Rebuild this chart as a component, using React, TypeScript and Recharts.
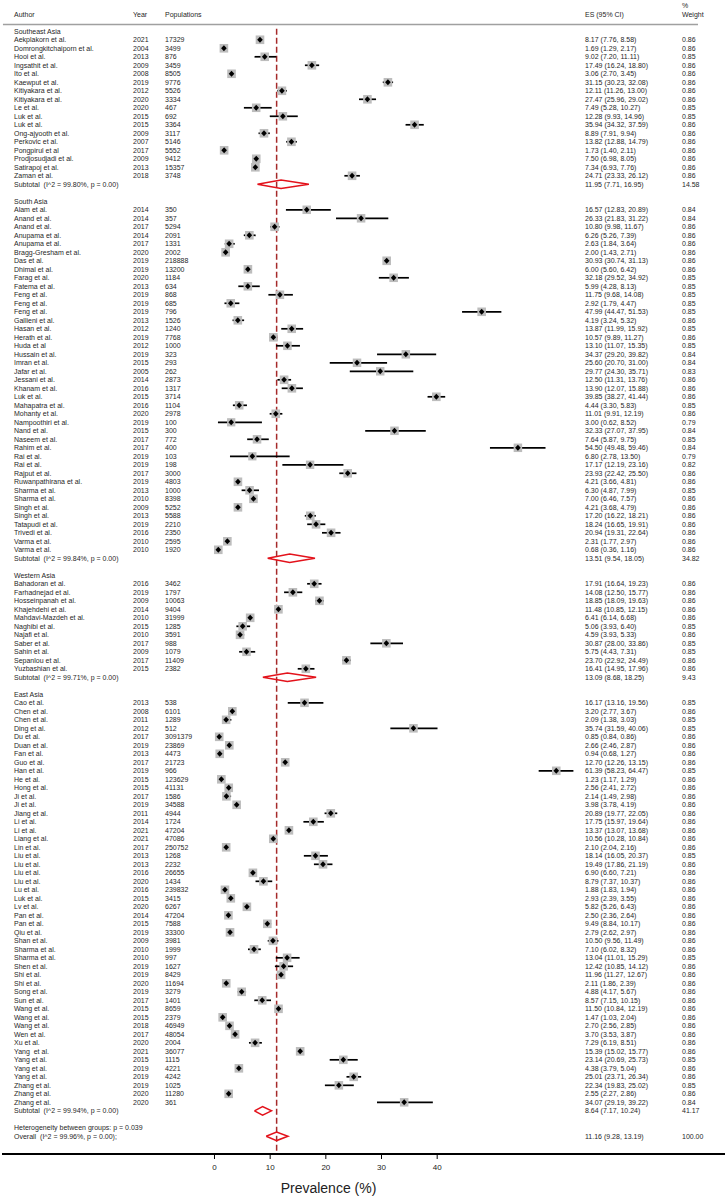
import React from 'react';
import { ScatterChart, Scatter, XAxis, YAxis, ErrorBar, ReferenceLine } from 'recharts';

// ---------------- DATA ----------------
const regionNames = ['Southeast Asia', 'South Asia', 'Western Asia', 'East Asia'];
const regionSizes = [17, 41, 11, 48];

const authors = [
  // Southeast Asia
  'Aekplakorn et al.', 'Domrongkitchaiporn et al.', 'Hooi et al.', 'Ingsathit et al.', 'Ito et al.', 'Kaewput et al.',
  'Kitiyakara et al.', 'Kitiyakara et al.', 'Le et al.', 'Luk et al.', 'Luk et al.', 'Ong-ajyooth et al.', 'Perkovic et al.',
  'Pongpirul et al', 'Prodjosudjadi et al.', 'Satirapoj et al.', 'Zaman et al.',
  // South Asia
  'Alam et al.', 'Anand et al.', 'Anand et al.', 'Anupama et al.', 'Anupama et al.', 'Bragg-Gresham et al.', 'Das et al.',
  'Dhimal et al.', 'Farag et al.', 'Fatema et al.', 'Feng et al.', 'Feng et al.', 'Feng et al.', 'Gallieni et al.',
  'Hasan et al.', 'Herath et al.', 'Huda et al', 'Hussain et al.', 'Imran et al.', 'Jafar et al.', 'Jessani et al.',
  'Khanam et al.', 'Luk et al.', 'Mahapatra et al.', 'Mohanty et al.', 'Nampoothiri et al.', 'Nand et al.', 'Naseem et al.',
  'Rahim et al.', 'Rai et al.', 'Rai et al.', 'Rajput et al.', 'Ruwanpathirana et al.', 'Sharma et al.', 'Sharma et al.',
  'Singh et al.', 'Singh et al.', 'Tatapudi et al.', 'Trivedi et al.', 'Varma et al.', 'Varma et al.',
  // Western Asia
  'Bahadoran et al.', 'Farhadnejad et al.', 'Hosseinpanah et al.', 'Khajehdehi et al.', 'Mahdavi-Mazdeh et al.',
  'Naghibi et al.', 'Najafi et al.', 'Saber et al.', 'Sahin et al.', 'Sepanlou et al.', 'Yuzbashian et al.',
  // East Asia
  'Cao et al.', 'Chen et al.', 'Chen et al.', 'Ding et al.', 'Du et al.', 'Duan et al.', 'Fan et al.', 'Guo et al.',
  'Han et al.', 'He et al.', 'Hong et al.', 'Ji et al.', 'Ji et al.', 'Jiang et al.', 'Li et al.', 'Li et al.',
  'Liang et al.', 'Lin et al.', 'Liu et al.', 'Liu et al.', 'Liu et al.', 'Liu et al.', 'Lu et al.', 'Luk et al.',
  'Lv et al.', 'Pan et al.', 'Pan et al.', 'Qiu et al.', 'Shan et al.', 'Sharma et al.', 'Sharma et al.', 'Shen et al.',
  'Shi et al.', 'Shi et al.', 'Song et al.', 'Sun et al.', 'Wang et al.', 'Wang et al.', 'Wang et al.', 'Wen et al.',
  'Xu et al.', 'Yang  et al.', 'Yang et al.', 'Yang et al.', 'Yang et al.', 'Zhang et al.', 'Zhang et al.', 'Zhang et al.',
];

const years = [
  2021, 2004, 2013, 2009, 2008, 2019, 2012, 2020, 2020, 2015, 2015, 2009, 2007, 2017, 2009, 2013, 2018,
  2014, 2014, 2017, 2014, 2017, 2020, 2019, 2019, 2020, 2013, 2019, 2019, 2019, 2013, 2012, 2019, 2012, 2019, 2015,
  2005, 2014, 2016, 2015, 2016, 2020, 2019, 2015, 2017, 2017, 2019, 2019, 2017, 2019, 2013, 2010, 2009, 2013, 2019,
  2016, 2010, 2010,
  2016, 2019, 2009, 2014, 2010, 2015, 2010, 2017, 2009, 2017, 2015,
  2013, 2008, 2011, 2012, 2017, 2019, 2013, 2017, 2019, 2015, 2015, 2017, 2019, 2011, 2014, 2021, 2021, 2017, 2013,
  2013, 2016, 2020, 2016, 2015, 2020, 2014, 2015, 2019, 2009, 2010, 2010, 2019, 2019, 2020, 2019, 2017, 2015, 2015,
  2018, 2017, 2020, 2021, 2015, 2019, 2019, 2019, 2020, 2020,
];

const populations = [
  17329, 3499, 876, 3459, 8505, 9776, 5526, 3334, 467, 692, 3364, 3117, 5146, 5552, 9412, 15357, 3748,
  350, 357, 5294, 2091, 1331, 2002, 218888, 13200, 1184, 634, 868, 685, 796, 1526, 1240, 7768, 1000, 323, 293, 262,
  2873, 1317, 3714, 1104, 2978, 100, 300, 772, 400, 103, 198, 3000, 4803, 1000, 8398, 5252, 5588, 2210, 2350, 2595, 1920,
  3462, 1797, 10063, 9404, 31999, 1285, 3591, 988, 1079, 11409, 2382,
  538, 6101, 1289, 512, 3091379, 23869, 4473, 21723, 966, 123629, 41131, 1586, 34588, 4944, 1724, 47204, 47086, 250752,
  1268, 2232, 26655, 1434, 239832, 3415, 6267, 47204, 7588, 33300, 3981, 1999, 997, 1627, 8429, 11694, 3279, 1401, 8659,
  2379, 46949, 48054, 2004, 36077, 1115, 4221, 4242, 1025, 11280, 361,
];

const esValues = [
  8.17, 1.69, 9.02, 17.49, 3.06, 31.15, 12.11, 27.47, 7.49, 12.28, 35.94, 8.89, 13.82, 1.73, 7.50, 7.34, 24.71,
  16.57, 26.33, 10.80, 6.26, 2.63, 2.00, 30.93, 6.00, 32.18, 5.99, 11.75, 2.92, 47.99, 4.19, 13.87, 10.57, 13.10, 34.37,
  25.60, 29.77, 12.50, 13.90, 39.85, 4.44, 11.01, 3.00, 32.33, 7.64, 54.50, 6.80, 17.17, 23.93, 4.21, 6.30, 7.00, 4.21,
  17.20, 18.24, 20.94, 2.31, 0.68,
  17.91, 14.08, 18.85, 11.48, 6.41, 5.06, 4.59, 30.87, 5.75, 23.70, 16.41,
  16.17, 3.20, 2.09, 35.74, 0.85, 2.66, 0.94, 12.70, 61.39, 1.23, 2.56, 2.14, 3.98, 20.89, 17.75, 13.37, 10.56, 2.10,
  18.14, 19.49, 6.90, 8.79, 1.88, 2.93, 5.82, 2.50, 9.49, 2.79, 10.50, 7.10, 13.04, 12.42, 11.96, 2.11, 4.88, 8.57,
  11.50, 1.47, 2.70, 3.70, 7.29, 15.39, 23.14, 4.38, 25.01, 22.34, 2.55, 34.07,
];

const ciLow = [
  7.76, 1.29, 7.20, 16.24, 2.70, 30.23, 11.26, 25.96, 5.28, 9.93, 34.32, 7.91, 12.88, 1.40, 6.98, 6.93, 23.33,
  12.83, 21.83, 9.98, 5.26, 1.84, 1.43, 30.74, 5.60, 29.52, 4.28, 9.68, 1.79, 44.47, 3.24, 11.99, 9.89, 11.07, 29.20,
  20.70, 24.30, 11.31, 12.07, 38.27, 3.30, 9.91, 0.62, 27.07, 5.87, 49.48, 2.78, 12.19, 22.42, 3.66, 4.87, 6.46, 3.68,
  16.22, 16.65, 19.31, 1.77, 0.36,
  16.64, 12.50, 18.09, 10.85, 6.14, 3.93, 3.93, 28.00, 4.43, 22.92, 14.95,
  13.16, 2.77, 1.38, 31.59, 0.84, 2.46, 0.68, 12.26, 58.23, 1.17, 2.41, 1.49, 3.78, 19.77, 15.97, 13.07, 10.28, 2.04,
  16.05, 17.86, 6.60, 7.37, 1.83, 2.39, 5.26, 2.36, 8.84, 2.62, 9.56, 6.02, 11.01, 10.85, 11.27, 1.86, 4.17, 7.15,
  10.84, 1.03, 2.56, 3.53, 6.19, 15.02, 20.69, 3.79, 23.71, 19.83, 2.27, 29.19,
];

const ciHigh = [
  8.58, 2.17, 11.11, 18.80, 3.45, 32.08, 13.00, 29.02, 10.27, 14.96, 37.59, 9.94, 14.79, 2.11, 8.05, 7.76, 26.12,
  20.89, 31.22, 11.67, 7.39, 3.64, 2.71, 31.13, 6.42, 34.92, 8.13, 14.08, 4.47, 51.53, 5.32, 15.92, 11.27, 15.35, 39.82,
  31.00, 35.71, 13.76, 15.88, 41.44, 5.83, 12.19, 8.52, 37.95, 9.75, 59.46, 13.50, 23.16, 25.50, 4.81, 7.99, 7.57, 4.79,
  18.21, 19.91, 22.64, 2.97, 1.16,
  19.23, 15.77, 19.63, 12.15, 6.68, 6.40, 5.33, 33.86, 7.31, 24.49, 17.96,
  19.56, 3.67, 3.03, 40.06, 0.86, 2.87, 1.27, 13.15, 64.47, 1.29, 2.72, 2.98, 4.19, 22.05, 19.64, 13.68, 10.84, 2.16,
  20.37, 21.19, 7.21, 10.37, 1.94, 3.55, 6.43, 2.64, 10.17, 2.97, 11.49, 8.32, 15.29, 14.12, 12.67, 2.39, 5.67, 10.15,
  12.19, 2.04, 2.85, 3.87, 8.51, 15.77, 25.73, 5.04, 26.34, 25.02, 2.86, 39.22,
];

const weights = [
  0.86, 0.86, 0.85, 0.86, 0.86, 0.86, 0.86, 0.86, 0.85, 0.85, 0.86, 0.86, 0.86, 0.86, 0.86, 0.86, 0.86,
  0.84, 0.84, 0.86, 0.86, 0.86, 0.86, 0.86, 0.86, 0.85, 0.85, 0.85, 0.85, 0.85, 0.86, 0.85, 0.86, 0.85, 0.84, 0.84,
  0.83, 0.86, 0.86, 0.86, 0.85, 0.86, 0.79, 0.84, 0.85, 0.84, 0.79, 0.82, 0.86, 0.86, 0.85, 0.86, 0.86, 0.86, 0.86,
  0.86, 0.86, 0.86,
  0.86, 0.86, 0.86, 0.86, 0.86, 0.85, 0.86, 0.85, 0.85, 0.86, 0.86,
  0.85, 0.86, 0.85, 0.85, 0.86, 0.86, 0.86, 0.86, 0.85, 0.86, 0.86, 0.86, 0.86, 0.86, 0.86, 0.86, 0.86, 0.86,
  0.85, 0.86, 0.86, 0.86, 0.86, 0.86, 0.86, 0.86, 0.86, 0.86, 0.86, 0.86, 0.85, 0.86, 0.86, 0.86, 0.86, 0.86,
  0.86, 0.86, 0.86, 0.86, 0.86, 0.86, 0.85, 0.86, 0.86, 0.85, 0.86, 0.84,
];

const subtotalI2 = [99.8, 99.84, 99.71, 99.94];
const subtotalES = [11.95, 13.51, 13.09, 8.64];
const subtotalLow = [7.71, 9.54, 8.68, 7.17];
const subtotalHigh = [16.95, 18.05, 18.25, 10.24];
const subtotalWeights = [14.58, 34.82, 9.43, 41.17];

const heterogeneityP = 0.039;
const overallI2 = 99.96;
const overallES = 11.16;
const overallLow = 9.28;
const overallHigh = 13.19;
const overallWeight = 100.0;

const xTicks = [0, 10, 20, 30, 40];
const headerLabels = ['Author', 'Year', 'Populations', 'ES (95% CI)', '%', 'Weight'];

// ---------------- BUILD ROWS ----------------
type RowInfo =
  | { kind: 'header' }
  | { kind: 'region'; label: string }
  | { kind: 'study'; idx: number }
  | { kind: 'subtotal'; g: number }
  | { kind: 'het' }
  | { kind: 'overall' };

const rowMap: Record<number, RowInfo> = {};
const studyPoints: { x: number; y: number; w: number; err: [number, number] }[] = [];
const diamondSpecs: { es: number; lo: number; hi: number; y: number }[] = [];

rowMap[-2] = { kind: 'header' };
let rowCursor = 0;
let studyCursor = 0;
regionNames.forEach((name, g) => {
  rowMap[rowCursor] = { kind: 'region', label: name };
  rowCursor++;
  for (let i = 0; i < regionSizes[g]; i++) {
    const k = studyCursor;
    rowMap[rowCursor] = { kind: 'study', idx: k };
    studyPoints.push({
      x: esValues[k],
      y: rowCursor,
      w: weights[k],
      err: [esValues[k] - ciLow[k], ciHigh[k] - esValues[k]],
    });
    rowCursor++;
    studyCursor++;
  }
  rowMap[rowCursor] = { kind: 'subtotal', g };
  diamondSpecs.push({ es: subtotalES[g], lo: subtotalLow[g], hi: subtotalHigh[g], y: rowCursor });
  rowCursor++;
  rowCursor++; // blank row
});
const hetRow = rowCursor;
const overallRow = rowCursor + 1;
rowMap[hetRow] = { kind: 'het' };
rowMap[overallRow] = { kind: 'overall' };
diamondSpecs.push({ es: overallES, lo: overallLow, hi: overallHigh, y: overallRow });

const tickRows = Object.keys(rowMap).map(Number).sort((a, b) => a - b);

const DH = 0.5; // diamond half height (rows)
const diamondData = diamondSpecs.map((d) => [
  { x: d.lo, y: d.y },
  { x: d.es, y: d.y - DH },
  { x: d.hi, y: d.y },
  { x: d.es, y: d.y + DH },
  { x: d.lo, y: d.y },
]);

// ---------------- STYLE ----------------
const FONT = '"Liberation Sans", Arial, Helvetica, sans-serif';
const FS = 7;
const TXT = '#1f1f1f';
const COL_AUTHOR = 14;
const COL_YEAR = 133;
const COL_POP = 165;
const COL_ES = 585;
const COL_WT = 682;

const fmt = (v: number) => v.toFixed(2);
const esText = (e: number, l: number, h: number) => `${fmt(e)} (${fmt(l)}, ${fmt(h)})`;

const T = (props: { x: number; y: number; children: React.ReactNode; dy?: number; size?: number }) => (
  <text
    x={props.x}
    y={props.y + (props.dy ?? 0)}
    dy="0.35em"
    fontFamily={FONT}
    fontSize={props.size ?? FS}
    fill={TXT}
    style={{ whiteSpace: 'pre' }}
  >
    {props.children}
  </text>
);

const RowTick = (props: any) => {
  const { y, payload } = props;
  const info = rowMap[payload.value];
  if (!info) return <g />;
  if (info.kind === 'header') {
    return (
      <g>
        <T x={COL_AUTHOR} y={y}>{headerLabels[0]}</T>
        <T x={COL_YEAR} y={y}>{headerLabels[1]}</T>
        <T x={COL_POP} y={y}>{headerLabels[2]}</T>
        <T x={COL_ES} y={y}>{headerLabels[3]}</T>
        <T x={COL_WT} y={y} dy={-8.5}>{headerLabels[4]}</T>
        <T x={COL_WT} y={y}>{headerLabels[5]}</T>
      </g>
    );
  }
  if (info.kind === 'region') {
    return <g><T x={COL_AUTHOR} y={y}>{info.label}</T></g>;
  }
  if (info.kind === 'study') {
    const k = info.idx;
    return (
      <g>
        <T x={COL_AUTHOR} y={y}>{authors[k]}</T>
        <T x={COL_YEAR} y={y}>{String(years[k])}</T>
        <T x={COL_POP} y={y}>{String(populations[k])}</T>
        <T x={COL_ES} y={y}>{esText(esValues[k], ciLow[k], ciHigh[k])}</T>
        <T x={COL_WT} y={y}>{fmt(weights[k])}</T>
      </g>
    );
  }
  if (info.kind === 'subtotal') {
    const g = info.g;
    return (
      <g>
        <T x={COL_AUTHOR} y={y}>{`Subtotal  (I^2 = ${subtotalI2[g].toFixed(2)}%, p = 0.00)`}</T>
        <T x={COL_ES} y={y}>{esText(subtotalES[g], subtotalLow[g], subtotalHigh[g])}</T>
        <T x={COL_WT} y={y}>{fmt(subtotalWeights[g])}</T>
      </g>
    );
  }
  if (info.kind === 'het') {
    return <g><T x={COL_AUTHOR} y={y}>{`Heterogeneity between groups: p = ${heterogeneityP.toFixed(3)}`}</T></g>;
  }
  return (
    <g>
      <T x={COL_AUTHOR} y={y}>{`Overall  (I^2 = ${overallI2.toFixed(2)}%, p = 0.00);`}</T>
      <T x={COL_ES} y={y}>{esText(overallES, overallLow, overallHigh)}</T>
      <T x={COL_WT} y={y}>{fmt(overallWeight)}</T>
    </g>
  );
};

const BoxShape = (props: any) => {
  const { cx, cy, payload } = props;
  if (cx == null || cy == null) return <g />;
  const s = 8.6 * Math.sqrt(payload.w / 0.86);
  return <rect x={cx - s / 2} y={cy - s / 2} width={s} height={s} fill="#bdbdbd" />;
};

const DiamondShape = (props: any) => {
  const { cx, cy } = props;
  if (cx == null || cy == null) return <g />;
  const hw = 2.8;
  const hh = 3.0;
  return <polygon points={`${cx - hw},${cy} ${cx},${cy - hh} ${cx + hw},${cy} ${cx},${cy + hh}`} fill="#000" />;
};

const NoShape = () => <g />;

const Y_AXIS_W = 2;
const X_DOMAIN: [number, number] = [-38.17, 91.7];
const Y_DOMAIN: [number, number] = [-3.68, 132.08];
const HEADER_RULE: [number, number] = [-38.0, 86.85];

export default function App() {
  return (
    <div style={{ width: 725, height: 1199, background: '#fff', overflow: 'hidden' }}>
      <style>{`body{margin:0;overflow:hidden;background:#fff}`}</style>
      <ScatterChart width={725} height={1199} margin={{ top: 0, right: 0, bottom: 0, left: 0 }}>
        <XAxis
          type="number"
          dataKey="x"
          domain={X_DOMAIN}
          allowDataOverflow
          ticks={xTicks}
          interval={0}
          height={45}
          axisLine={{ stroke: '#000', strokeWidth: 2 }}
          tickLine={{ stroke: '#000' }}
          tickSize={5}
          tick={{ fontSize: 8, fill: '#222', fontFamily: FONT, dy: 3 }}
          label={{
            value: 'Prevalence (%)',
            position: 'insideBottom',
            offset: 6,
            dx: -35,
            style: { fontSize: 14, fill: '#222', fontFamily: FONT },
          }}
        />
        <YAxis
          type="number"
          dataKey="y"
          domain={Y_DOMAIN}
          allowDataOverflow
          reversed
          width={Y_AXIS_W}
          ticks={tickRows}
          interval={0}
          axisLine={false}
          tickLine={false}
          tick={(p: any) => <RowTick {...p} />}
        />
        <ReferenceLine
          segment={[
            { x: HEADER_RULE[0], y: -0.8 },
            { x: HEADER_RULE[1], y: -0.8 },
          ]}
          stroke="#a0a0a0"
          strokeWidth={1.5}
          ifOverflow="visible"
        />
        <ReferenceLine
          segment={[
            { x: overallES, y: -0.3 },
            { x: overallES, y: 131.9 },
          ]}
          stroke="#a52a2a"
          strokeWidth={1.5}
          strokeDasharray="6 3"
          ifOverflow="visible"
        />
        <Scatter data={studyPoints} shape={BoxShape} isAnimationActive={false} />
        <Scatter data={studyPoints} shape={DiamondShape} isAnimationActive={false}>
          <ErrorBar dataKey="err" direction="x" width={0} stroke="#000" strokeWidth={1.7} isAnimationActive={false} />
        </Scatter>
        {diamondData.map((d, i) => (
          <Scatter
            key={`dia-${i}`}
            data={d}
            shape={NoShape}
            fill="none"
            line={{ stroke: '#e3121b', strokeWidth: 1.5, fill: 'none' }}
            lineType="joint"
            isAnimationActive={false}
          />
        ))}
      </ScatterChart>
    </div>
  );
}
